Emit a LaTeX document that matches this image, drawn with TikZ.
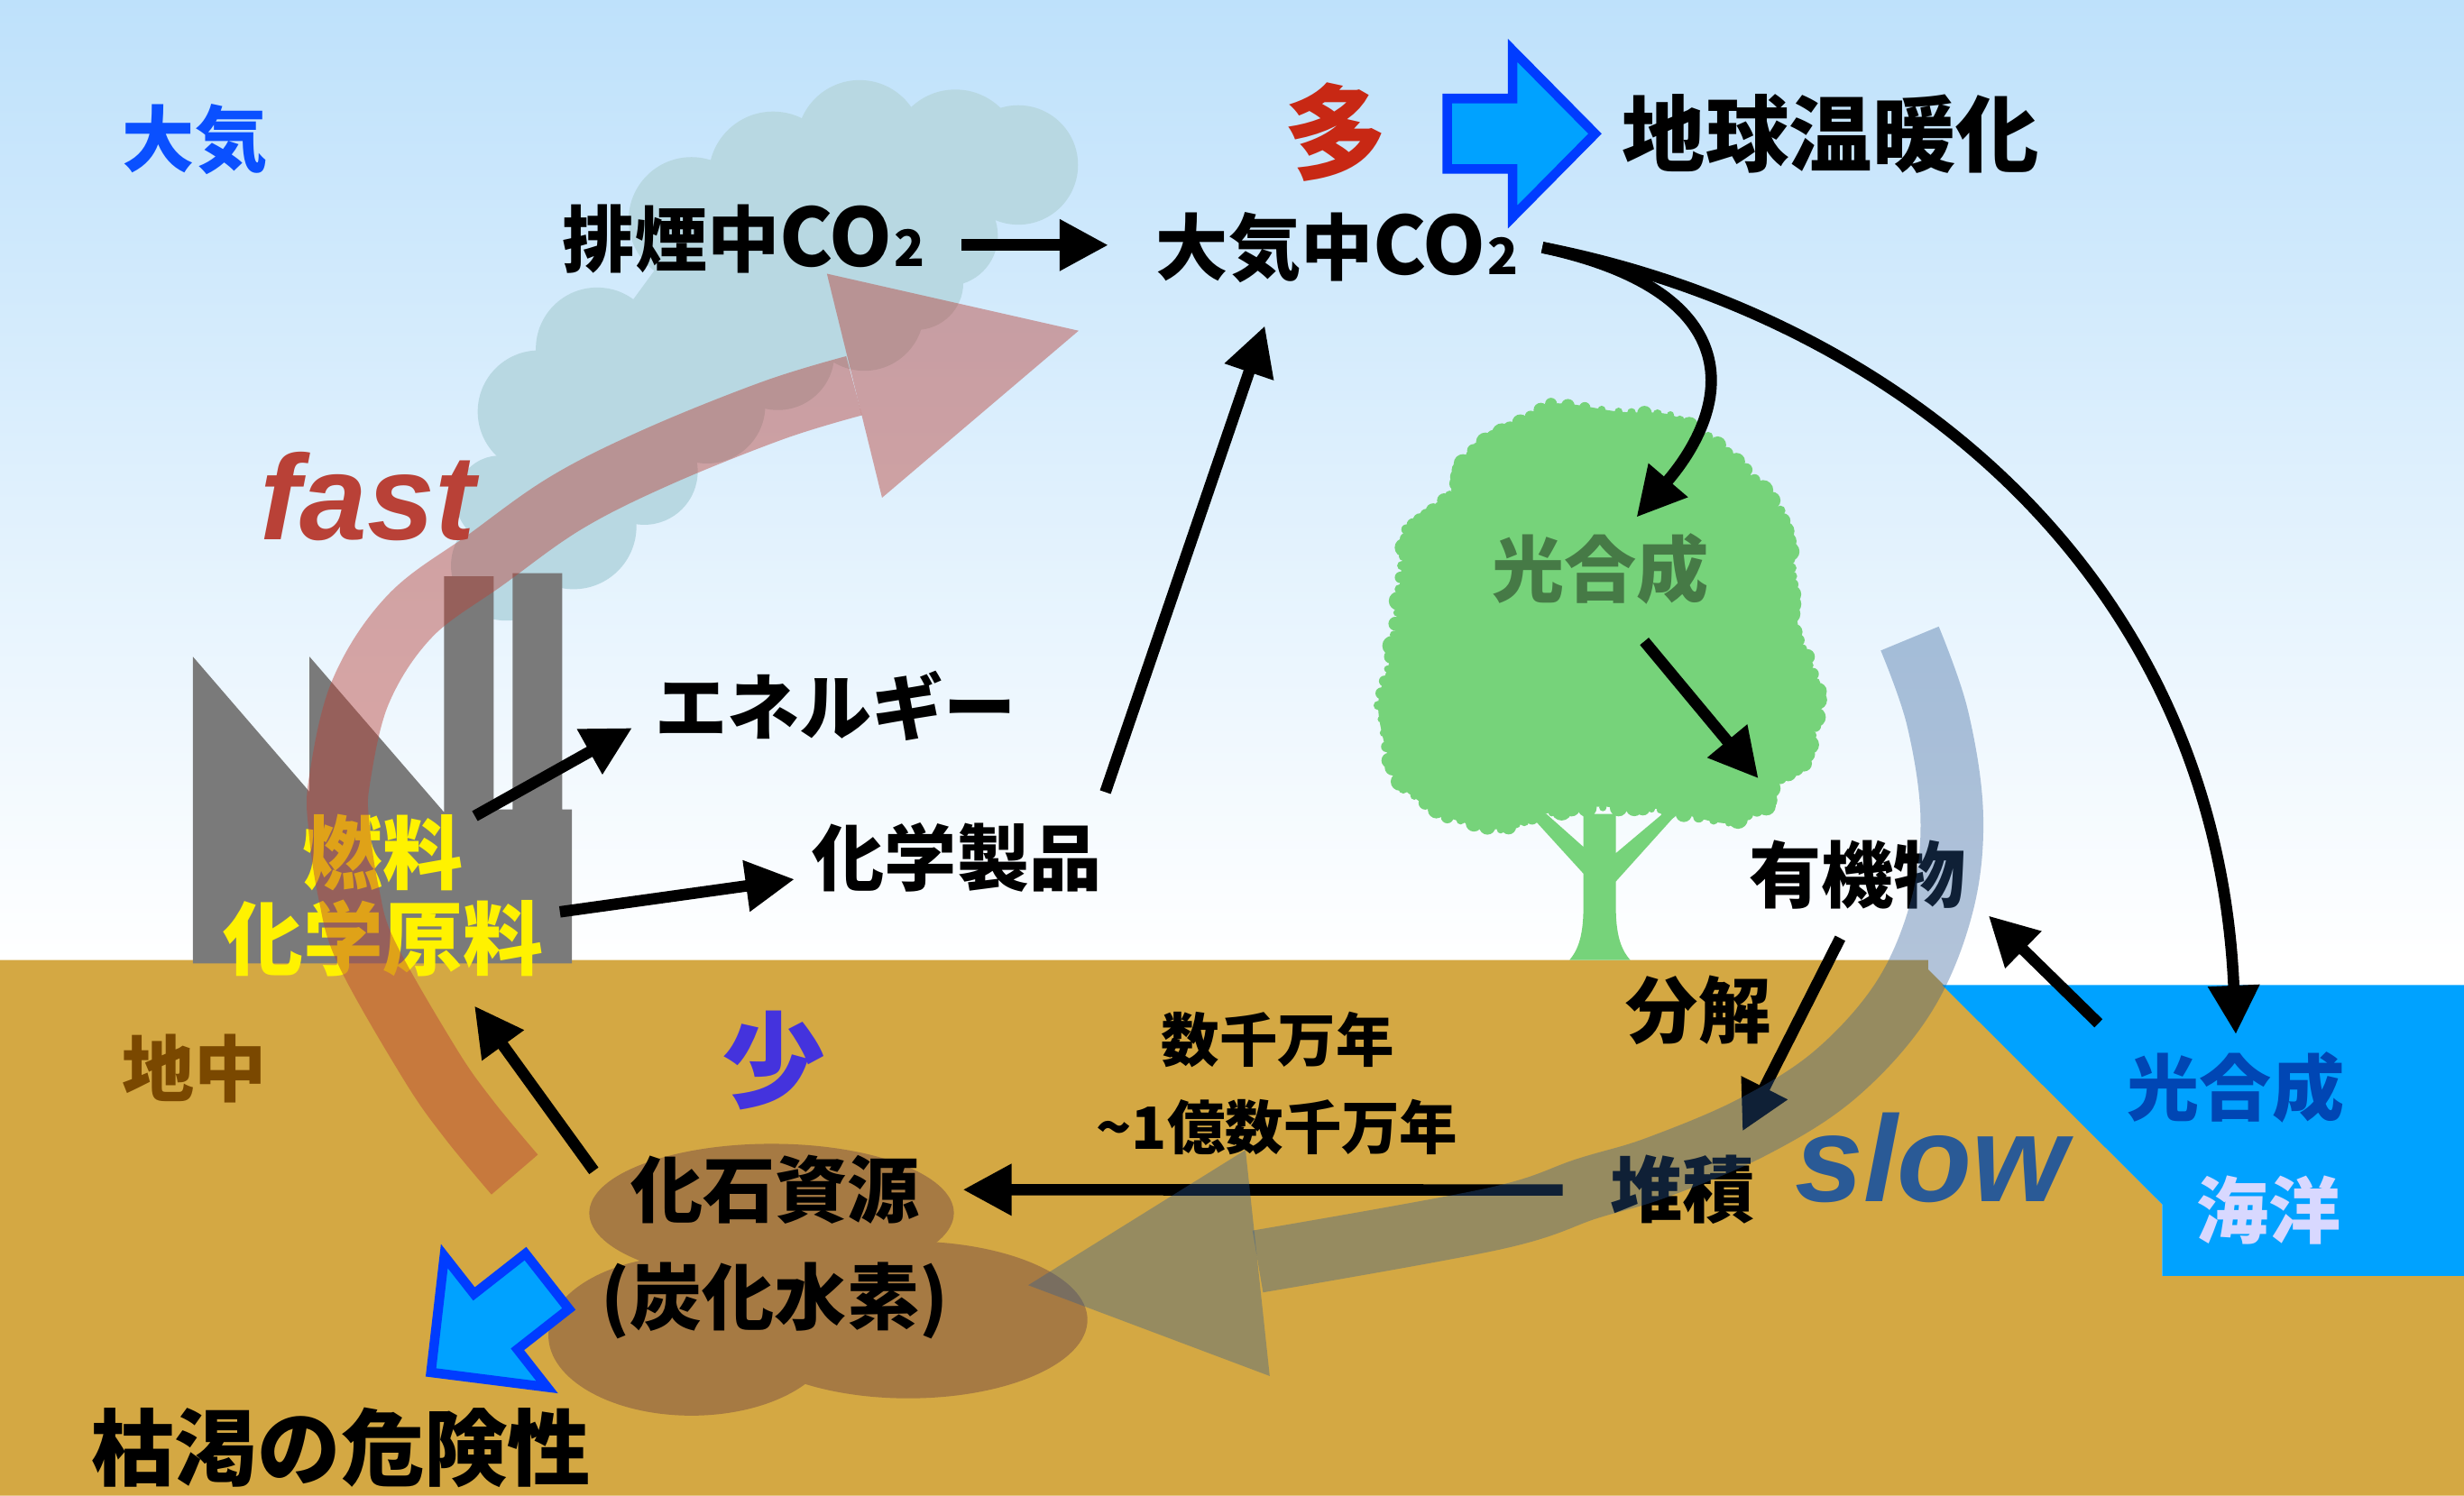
\documentclass[tikz,border=0pt]{standalone}
\usepackage{fontspec}
\setmainfont{Noto Sans CJK JP}
\newfontfamily\engfont{Liberation Sans}
\usetikzlibrary{arrows.meta,calc}

\newlength\pu
\setlength\pu{0.017423cm}
\newcommand\sz[1]{\fontsize{#1\pu}{#1\pu}\selectfont}
\newcommand\cotwo{{\sz{51}CO}\hspace{1\pu}{\sz{32}2}}

\definecolor{skytop}{RGB}{190,225,251}
\definecolor{soil}{RGB}{212,168,67}
\definecolor{sea}{RGB}{0,162,255}
\definecolor{smoke}{RGB}{184,216,226}
\definecolor{plant}{RGB}{118,211,122}
\definecolor{leafink}{RGB}{70,122,70}
\definecolor{factorygray}{RGB}{122,122,122}
\definecolor{coal}{RGB}{166,122,67}
\definecolor{fastred}{RGB}{185,65,55}
\definecolor{slowblue}{RGB}{42,90,150}
\definecolor{arrowline}{RGB}{0,60,255}
\definecolor{airblue}{RGB}{10,80,255}
\definecolor{earthbrown}{RGB}{122,72,0}
\definecolor{manyred}{RGB}{200,40,20}
\definecolor{fewpurple}{RGB}{68,51,221}
\definecolor{seaink}{RGB}{0,70,180}
\definecolor{seawhite}{RGB}{216,216,255}

\begin{document}
\begin{tikzpicture}[x=0.017423cm, y=-0.017423cm,
        lbl/.style={inner sep=0pt, font=\bfseries\sz{46}},
        arr/.style={line width=3.6pt, -{Triangle[length=15.4pt,width=15.4pt]}},
        blockarrow/.pic={
            \draw[line width=3pt, draw=arrowline, fill=sea, miter limit=10]
                (0,22.4) -- (41.6,22.4) -- (41.6,53) -- (94,0) -- (41.6,-53)
                -- (41.6,-22.4) -- (0,-22.4) -- cycle;}
    ]
    \useasboundingbox (0,0) rectangle (1568,952);
    \pgfmathsetseed{7}

    % sky, ground, sea
    \shade[top color=skytop, bottom color=white] (0,0) rectangle (1568,611);
    \fill[soil] (0,611) -- (1227,611) -- (1227,617) -- (1376,766.5) -- (1376,812)
        -- (1568,812) -- (1568,952) -- (0,952) -- cycle;
    \fill[sea] (1236,627) -- (1568,627) -- (1568,812) -- (1376,812) -- (1376,766.5) -- cycle;

    % smoke cloud
    \fill[smoke] (547,91) -- (608,98) -- (648,105) -- (603,150) -- (583,180) -- (550,198)
        -- (495,225) -- (450,258) -- (410,300) -- (365,335) -- (322,360) -- (318,318)
        -- (343,262) -- (380,222) -- (440,140) -- (492,112) -- cycle;
    \foreach \cx/\cy/\r in {547/91/40, 608/98/41, 648/105/38, 603/150/32, 583/180/30,
            550/198/38, 495/225/36, 450/258/37, 410/300/34, 365/335/40, 322/360/35,
            318/318/28, 343/262/39, 380/222/39, 440/140/40, 492/112/41}
        \fill[smoke] (\cx,\cy) circle[radius=\r];

    % factory
    \fill[factorygray] (122.8,613.2) -- (122.8,418) -- (197,504) -- (197,418) -- (282.6,517)
        -- (282.6,366.8) -- (314.1,366.8) -- (314.1,515.2) -- (326.2,515.2) -- (326.2,364.8)
        -- (357.8,364.8) -- (357.8,515.2) -- (363.9,515.2) -- (363.9,613.2) -- cycle;

    % tree: crown with leafy edge, then trunk
    \fill[plant] plot[smooth cycle, tension=0.55] coordinates {(940,284) (961,273) (987,257)
            (1030,262) (1063,264) (1087,278) (1111,299) (1133,325) (1139,351) (1141,372)
            (1139,397) (1150,418) (1157,440) (1155,462) (1148,486) (1128,498) (1124,513)
            (1100,524) (1062,516) (1040,514) (1000,514) (975,521) (955,528) (921,520)
            (893,502) (884,484) (877,449) (885,418) (889,390) (892,360) (895,337)
            (912,325) (926,312) (931,295)};
    \foreach \x/\y [remember=\x as \lx (initially 931), remember=\y as \ly (initially 295)]
            in {940/284, 961/273, 987/257, 1030/262, 1063/264, 1087/278, 1111/299,
            1133/325, 1139/351, 1141/372, 1139/397, 1150/418, 1157/440, 1155/462,
            1148/486, 1128/498, 1124/513, 1100/524, 1062/516, 1040/514, 1000/514,
            975/521, 955/528, 921/520, 893/502, 884/484, 877/449, 885/418, 889/390,
            892/360, 895/337, 912/325, 926/312, 931/295}
        \foreach \t in {0,0.25,0.5,0.75}
            \fill[plant] ($(\lx,\ly)!\t!(\x,\y)$) circle[radius={2+4.5*rnd}];
    \fill[plant] (973,518) -- (984,518) -- (1007.6,539) -- (1007.6,518) -- (1028.3,518)
        -- (1028.3,543) -- (1058,518) -- (1067,518) -- (1028.3,561) -- (1028.3,578)
        .. controls (1028.3,598) and (1033,606) .. (1037.4,611) -- (998.8,611)
        .. controls (1003,606) and (1007.6,598) .. (1007.6,578) -- (1007.6,556) -- cycle;

    % fossil deposit
    \fill[coal] (491,772) ellipse[x radius=116, y radius=44];
    \fill[coal] (440,850) ellipse[x radius=91, y radius=51];
    \fill[coal] (578,840) ellipse[x radius=114, y radius=50];

    % big arrows
    \pic at (921,85.1) {blockarrow};
    \pic[rotate=218.1] at (348.2,815.5) {blockarrow};

    % labels
    \node[lbl, text=airblue] (air) at (124,89) {大気};
    \node[lbl] (emis) at (473.3,152) {排煙中\cotwo};
    \node[lbl] (atm) at (850.9,157.5) {大気中\cotwo};
    \node[lbl, text=manyred, font=\bfseries\sz{66}] (many) at (850,84) {多};
    \node[lbl, font=\bfseries\sz{53}] (warming) at (1165,85) {地球温暖化};
    \node[lbl] (energy) at (531.7,449.3) {エネルギー};
    \node[lbl] (product) at (609,545.6) {化学製品};
    \node[lbl, text=yellow, font=\bfseries\sz{51}] (fuel) at (243.8,542.4) {燃料};
    \node[lbl, text=yellow, font=\bfseries\sz{51}] (feedstock) at (243.9,597.4) {化学原料};
    \node[lbl, text=fewpurple, font=\bfseries\sz{66}] (few) at (492.5,675) {少};
    \node[lbl] (fossil) at (493.3,757.2) {化石資源};
    \node[lbl] (hydrocarbon) at (493,828) {(炭化水素)};
    \node[lbl, font=\bfseries\sz{53}] (risk) at (217,921.7) {枯渇の危険性};
    \node[lbl, text=earthbrown] (underground) at (123.8,680) {地中};
    \node[lbl, font=\bfseries\sz{37}] (yearsa) at (813,662) {数千万年};
    \node[lbl, font=\bfseries\sz{37}] (yearsb) at (812.7,717.6) {\textasciitilde1億数千万年};
    \node[lbl] (decomp) at (1080.8,643.2) {分解};
    \node[lbl] (sediment) at (1070.8,757.4) {堆積};
    \node[lbl] (organic) at (1182,556.8) {有機物};
    \node[lbl, text=leafink] (treeps) at (1018.4,362.2) {光合成};
    \node[lbl, text=seaink] (seaps) at (1422.8,692.3) {光合成};
    \node[lbl, text=seawhite] (ocean) at (1444,770) {海洋};
    \node[anchor=base west, inner sep=0pt, text=fastred,
        font=\engfont\bfseries\itshape\sz{77}] (fast) at (165,343.3) {fast};
    \node[anchor=base west, inner sep=0pt, text=slowblue,
        font=\engfont\bfseries\itshape\sz{78}] (slow) at (1142,764.8) {slow};

    % carbon flows
    \draw[arr] ([shift={(23,4)}]emis.east) -- ([shift={(-30,-1.5)}]atm.west);
    \draw[arr] ([shift={(15,0)}]atm.east) .. controls (1110,185) and (1105,255)
        .. ([shift={(23,-10)}]treeps.north);
    \draw[arr] ([shift={(15,0)}]atm.east) .. controls (1200,200) and (1410,360)
        .. ([shift={(0,-11)}]seaps.north);
    \draw[arr] ([shift={(28,23)}]treeps.south) -- ([shift={(-63,-39)}]organic.north);
    \draw[arr] ([shift={(-11,18)}]organic.south) -- ([shift={(38,-15)}]sediment.north);
    \draw[arr] ([shift={(-18,-18)}]seaps.north west) -- ([shift={(14,26)}]organic.east);
    \draw[arr] ([shift={(-30,0)}]sediment.west) -- ([shift={(27,0)}]fossil.east);
    \draw[arr] ([shift={(-23,-12)}]fossil.west) -- ([shift={(58,18)}]feedstock.south);
    \draw[arr] ([shift={(7,-23)}]fuel.east) -- ([shift={(-14,14)}]energy.west);
    \draw[arr] ([shift={(10,-17)}]feedstock.east) -- ([shift={(-11,14)}]product.west);
    \draw[arr] ([shift={(2,-19)}]product.north east) -- ([shift={(-46,27)}]atm.south);

    % fast cycle
    \draw[fastred, draw opacity=.45, line width=19.3pt] plot[smooth, tension=0.6] coordinates {
        (327.5,747.6) (298,712) (273.5,677) (233.5,607) (222,569) (215.7,526) (216,497)
        (229.6,440) (261,392) (309.5,356) (360.8,319.7) (419.3,290.4) (492.5,261) (543.5,245.5)};
    \fill[fastred, fill opacity=.45] (526.2,174.2) -- (686.4,210.5) -- (561.3,316.8) -- cycle;

    % slow cycle
    \draw[slowblue, draw opacity=.36, line width=19.8pt] plot[smooth, tension=0.6] coordinates {
        (1215.3,406.4) (1232.9,456.8) (1242.1,519.5) (1235.6,577.3) (1211.5,634.6)
        (1168.5,683.3) (1115.9,717) (1054.6,743) (1010.3,756.4) (951,775.6) (800.4,802.9)};
    \fill[slowblue, fill opacity=.36] (792.6,731.9) -- (654.3,818) -- (808,875.8) -- cycle;
\end{tikzpicture}
\end{document}
